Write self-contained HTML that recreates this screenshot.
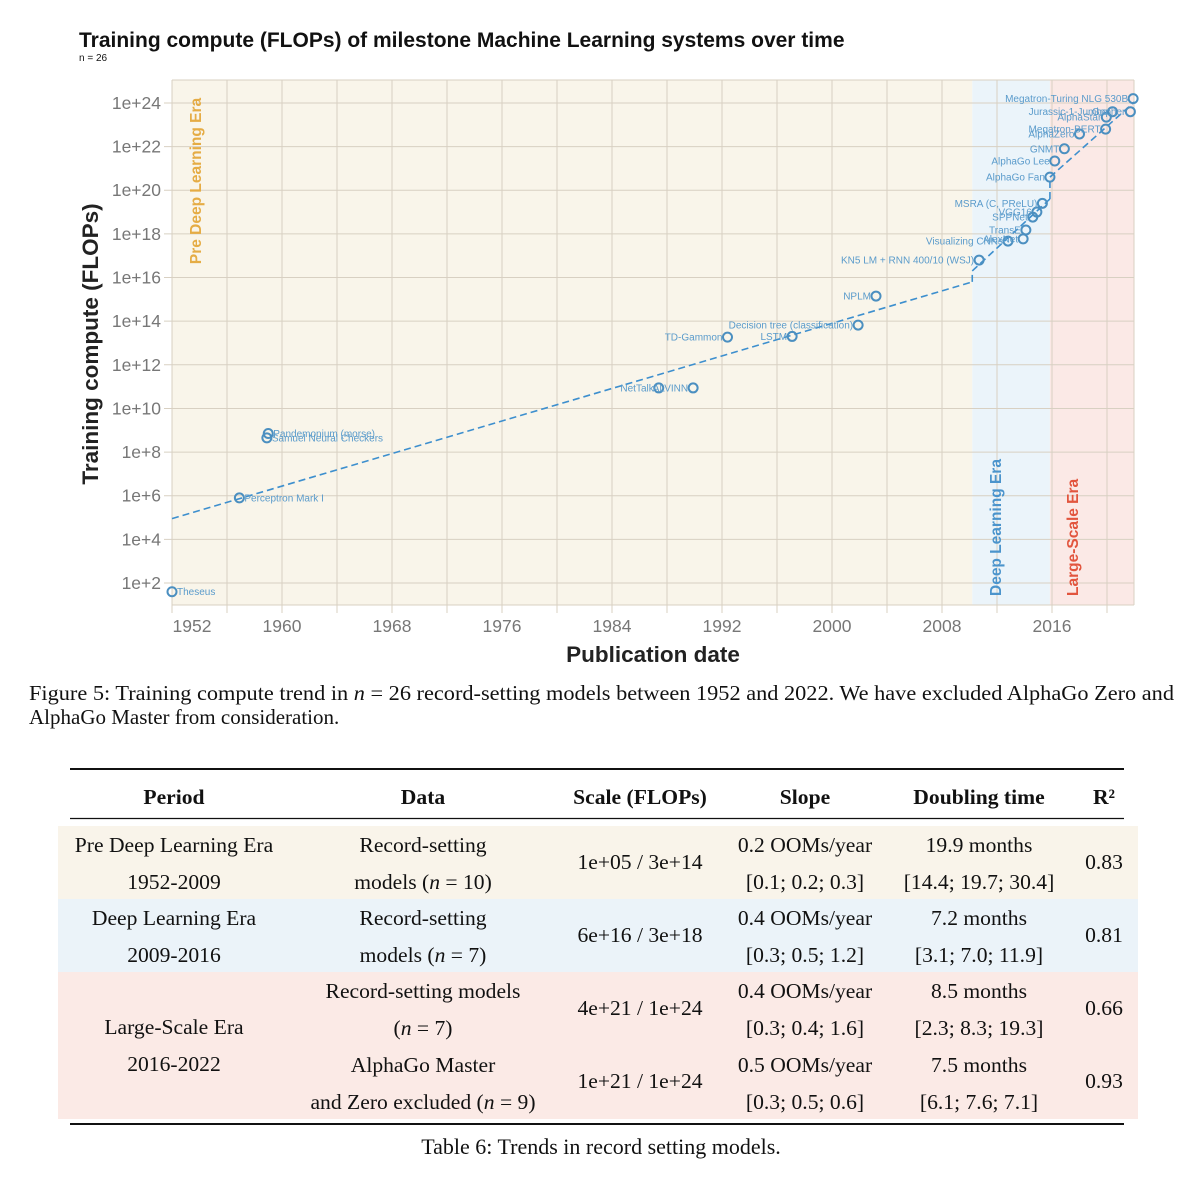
<!DOCTYPE html>
<html><head><meta charset="utf-8"><style>
body{margin:0;background:#fff;width:1182px;height:1200px;overflow:hidden}
svg{display:block}
.sans{font-family:"Liberation Sans",sans-serif}
.serif{font-family:"Liberation Serif",serif}
</style></head><body>
<svg id="root" width="1182" height="1200" viewBox="0 0 1182 1200">
<g id="chart"></g>
<g id="table" class="serif" font-size="21.6" fill="#111">
  <text font-size="21"><tspan x="29" y="700" textLength="1145" lengthAdjust="spacingAndGlyphs">Figure 5: Training compute trend in <tspan font-style="italic">n</tspan> = 26 record-setting models between 1952 and 2022. We have excluded AlphaGo Zero and</tspan><tspan x="29" y="724">AlphaGo Master from consideration.</tspan></text>
  <rect x="58" y="826" width="1080" height="73" fill="#f9f4ea"/>
  <rect x="58" y="899" width="1080" height="73" fill="#ebf3f9"/>
  <rect x="58" y="972" width="1080" height="147" fill="#fbeae6"/>
  <line x1="70" x2="1124" y1="769" y2="769" stroke="#111" stroke-width="2"/>
  <line x1="70" x2="1124" y1="818.5" y2="818.5" stroke="#111" stroke-width="1.2"/>
  <line x1="70" x2="1124" y1="1124" y2="1124" stroke="#111" stroke-width="2"/>
  <g font-weight="bold" text-anchor="middle">
    <text x="174" y="804">Period</text><text x="423" y="804">Data</text><text x="640" y="804">Scale (FLOPs)</text>
    <text x="805" y="804">Slope</text><text x="979" y="804">Doubling time</text><text x="1104" y="804">R²</text>
  </g>
  <g text-anchor="middle">
    <text x="174" y="852">Pre Deep Learning Era</text><text x="174" y="889">1952-2009</text>
    <text x="423" y="852">Record-setting</text><text x="423" y="889">models (<tspan font-style="italic">n</tspan> = 10)</text>
    <text x="640" y="869">1e+05 / 3e+14</text>
    <text x="805" y="852">0.2 OOMs/year</text><text x="805" y="889">[0.1; 0.2; 0.3]</text>
    <text x="979" y="852">19.9 months</text><text x="979" y="889">[14.4; 19.7; 30.4]</text>
    <text x="1104" y="869">0.83</text>

    <text x="174" y="925">Deep Learning Era</text><text x="174" y="962">2009-2016</text>
    <text x="423" y="925">Record-setting</text><text x="423" y="962">models (<tspan font-style="italic">n</tspan> = 7)</text>
    <text x="640" y="942">6e+16 / 3e+18</text>
    <text x="805" y="925">0.4 OOMs/year</text><text x="805" y="962">[0.3; 0.5; 1.2]</text>
    <text x="979" y="925">7.2 months</text><text x="979" y="962">[3.1; 7.0; 11.9]</text>
    <text x="1104" y="942">0.81</text>

    <text x="174" y="1034">Large-Scale Era</text><text x="174" y="1071">2016-2022</text>
    <text x="423" y="998">Record-setting models</text><text x="423" y="1035">(<tspan font-style="italic">n</tspan> = 7)</text>
    <text x="640" y="1015">4e+21 / 1e+24</text>
    <text x="805" y="998">0.4 OOMs/year</text><text x="805" y="1035">[0.3; 0.4; 1.6]</text>
    <text x="979" y="998">8.5 months</text><text x="979" y="1035">[2.3; 8.3; 19.3]</text>
    <text x="1104" y="1015">0.66</text>

    <text x="423" y="1072">AlphaGo Master</text><text x="423" y="1109">and Zero excluded (<tspan font-style="italic">n</tspan> = 9)</text>
    <text x="640" y="1088">1e+21 / 1e+24</text>
    <text x="805" y="1072">0.5 OOMs/year</text><text x="805" y="1109">[0.3; 0.5; 0.6]</text>
    <text x="979" y="1072">7.5 months</text><text x="979" y="1109">[6.1; 7.6; 7.1]</text>
    <text x="1104" y="1088">0.93</text>
  </g>
  <text x="601" y="1154" text-anchor="middle" font-size="22">Table 6: Trends in record setting models.</text>
</g>
</svg>
<script>
const names=["Theseus","Perceptron Mark I","Pandemonium (morse)","Samuel Neural Checkers","NetTalk","ALVINN","TD-Gammon","LSTM","Decision tree (classification)","NPLM","KN5 LM + RNN 400/10 (WSJ)","Visualizing CNNs","AlexNet","TransE","SPPNet","VGG16","MSRA (C, PReLU)","AlphaGo Fan","AlphaGo Lee","GNMT","AlphaZero","Megatron-BERT","AlphaStar","Jurassic-1-Jumbo","Gopher","Megatron-Turing NLG 530B"];
const years=[1952.0,1956.9,1959.0,1958.9,1987.4,1989.9,1992.4,1997.1,2001.9,2003.2,2010.7,2012.8,2013.9,2014.1,2014.6,2014.9,2015.3,2015.85,2016.2,2016.9,2018.0,2019.9,2019.95,2020.4,2021.7,2021.9];
const logFlops=[1.6,5.9,8.85,8.65,10.94,10.94,13.27,13.3,13.82,15.15,16.8,17.67,17.77,18.18,18.77,19.0,19.4,20.6,21.34,21.9,22.58,22.8,23.35,23.6,23.6,24.2];
const labelSide=["r","r","r","r","l","l","l","l","l","l","l","l","l","l","l","l","l","l","l","l","l","l","l","l","l","l"];
const trendYears=[[1952,2010.2],[2010.2,2010.2],[2010.2,2015.85],[2015.85,2015.85],[2015.85,2022]];
const trendLogs=[[4.95,15.8],[15.8,16.3],[16.3,19.6],[19.6,20.6],[20.6,24.05]];
const xTicks=[1952,1960,1968,1976,1984,1992,2000,2008,2016];
const yTicks=[2,4,6,8,10,12,14,16,18,20,22,24];
const eraStarts=[1952,2010.2,2015.85];
const eraEnds=[2010.2,2015.85,2022];
const eraNames=["Pre Deep Learning Era","Deep Learning Era","Large-Scale Era"];

const X0=172,X1=1134,Y0=80,Y1=605;
const xs=y=>X0+(y-1952)*13.75;
const ys=l=>583-(l-2)*21.82;
const NS="http://www.w3.org/2000/svg";
const g=document.getElementById('chart');
function el(t,a,p){const e=document.createElementNS(NS,t);for(const k in a)e.setAttribute(k,a[k]);(p||g).appendChild(e);return e;}

let t=el('text',{x:79,y:47,'font-size':21,'font-weight':'bold',class:'sans',fill:'#111'});t.textContent="Training compute (FLOPs) of milestone Machine Learning systems over time";


t=el('text',{x:79,y:61,'font-size':10,class:'sans',fill:'#111'});t.textContent="n = 26";



const eraFill=["#f9f5ea","#ebf4fa","#fbe9e6"];
const eraCol=["#e5ac45","#4b94cc","#e2553e"];
for(let i=0;i<3;i++){
  const r=el('rect',{x:xs(eraStarts[i]),y:Y0,width:xs(eraEnds[i])-xs(eraStarts[i]),height:Y1-Y0,fill:eraFill[i]});
  
  
}
xTicks.forEach((yr,i)=>{
  for(const v of [yr,yr+4]){ if(v>2022) continue;
    el('line',{x1:xs(v),x2:xs(v),y1:Y0,y2:Y1+8,stroke:"#d8d0c2",'stroke-width':1});}
  const lb=el('text',{x:i==0?xs(yr)+20:xs(yr),y:632,'font-size':17.5,'text-anchor':'middle',class:'sans',fill:'#777'});lb.textContent=yr;
  
  
});
el('line',{x1:X1,x2:X1,y1:Y0,y2:Y1,stroke:"#d8d0c2"});
el('line',{x1:X0,x2:X1,y1:Y0,y2:Y0,stroke:"#d8d0c2"});
el('line',{x1:X0,x2:X1,y1:Y1,y2:Y1,stroke:"#d8d0c2"});
yTicks.forEach(l=>{
  el('line',{x1:X0-8,x2:X1,y1:ys(l),y2:ys(l),stroke:"#d8d0c2"});
  const lb=el('text',{x:161,y:ys(l)+6,'font-size':17.5,'text-anchor':'end',class:'sans',fill:'#777'});lb.textContent="1e+"+l;
  
  
});
const eraLab=[[196,181,'middle'],[996,596,'start'],[1073,596,'start']];
eraNames.forEach((n,i)=>{
  const e=el('text',{x:0,y:0,'font-size':15.5,'font-weight':'bold','text-anchor':eraLab[i][2],class:'sans',fill:eraCol[i],transform:`translate(${eraLab[i][0]+5},${eraLab[i][1]}) rotate(-90)`});
  e.textContent=n;
  
  
});
trendYears.forEach((s,i)=>{
  const ln=el('line',{x1:xs(s[0]),x2:xs(s[1]),y1:ys(trendLogs[i][0]),y2:ys(trendLogs[i][1]),stroke:"#3d8fce",'stroke-width':1.6,'stroke-dasharray':'7 4'});
  
  
});
names.forEach((n,i)=>{
  const cx=xs(years[i]),cy=ys(logFlops[i]);
  const c=el('circle',{cx:cx,cy:cy,r:4.5,fill:'none',stroke:'#4b8fc0','stroke-width':2});
  
  
  const r=labelSide[i]=='r';
  const lb=el('text',{x:r?cx+5:cx-5,y:cy+3.5,'font-size':10,'text-anchor':r?'start':'end',class:'sans',fill:'#5a9bcb'});
  lb.textContent=n;
  
  
});
t=el('text',{x:0,y:0,'font-size':22.5,'font-weight':'bold','text-anchor':'middle',class:'sans',fill:'#222',transform:'translate(98,344) rotate(-90)'});t.textContent="Training compute (FLOPs)";


t=el('text',{x:653,y:662,'font-size':22.5,'font-weight':'bold','text-anchor':'middle',class:'sans',fill:'#222'});t.textContent="Publication date";


</script>
</body></html>
